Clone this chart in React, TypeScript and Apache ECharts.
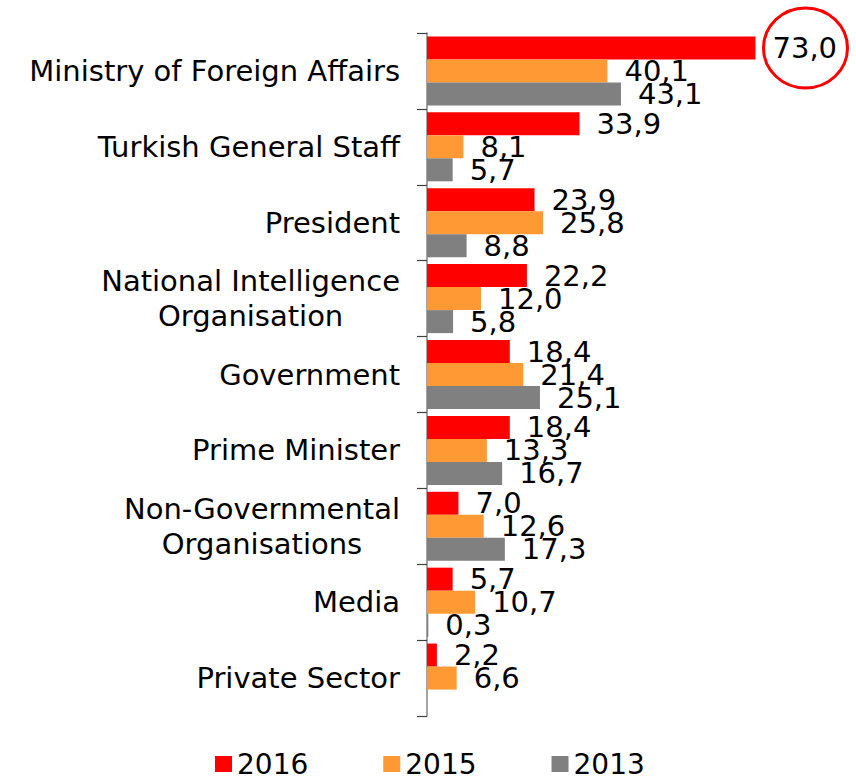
import React, { useEffect, useRef } from "react";
import * as echarts from "echarts";

const categories = [
  "Ministry of Foreign Affairs",
  "Turkish General Staff",
  "President",
  "National Intelligence\nOrganisation",
  "Government",
  "Prime Minister",
  "Non-Governmental\nOrganisations",
  "Media",
  "Private Sector",
];
const seriesNames = ["2016", "2015", "2013"];
const values2016 = [73.0, 33.9, 23.9, 22.2, 18.4, 18.4, 7.0, 5.7, 2.2];
const values2015 = [40.1, 8.1, 25.8, 12.0, 21.4, 13.3, 12.6, 10.7, 6.6];
const values2013: (number | null)[] = [43.1, 5.7, 8.8, 5.8, 25.1, 16.7, 17.3, 0.3, null];
const colors = ["#FF0000", "#FF9933", "#808080"];

const FONT = "DejaVu Sans";

export default function App() {
  const ref = useRef<HTMLDivElement>(null);
  useEffect(() => {
    if (!ref.current) return;
    const chart = echarts.init(ref.current, null, { renderer: "svg" });
    const fmt = (p: any) =>
      p.value == null ? "" : Number(p.value).toFixed(1).replace(".", ",");
    const mk = (name: string, data: (number | null)[], color: string) => ({
      name,
      type: "bar",
      data,
      barWidth: 23,
      barGap: "0%",
      itemStyle: { color },
      label: {
        show: true,
        position: "right",
        distance: 17,
        formatter: fmt,
        fontSize: 29,
        fontFamily: FONT,
        color: "#000",
      },
    });
    chart.setOption({
      animation: false,
      textStyle: { fontFamily: FONT },
      grid: { left: 427, top: 33, width: 360, height: 683 },
      xAxis: { type: "value", min: 0, max: 80, show: false },
      yAxis: {
        type: "category",
        inverse: true,
        data: categories,
        axisLine: { show: true, lineStyle: { color: "#868686", width: 1.5 } },
        axisTick: { show: true, length: 10, lineStyle: { color: "#404040", width: 1.2 } },
        splitLine: { show: false },
        axisLabel: {
          margin: 27,
          color: "#000",
          fontSize: 29,
          fontFamily: FONT,
          formatter: (v: string) =>
            v
              .split("\n")
              .map((l) => `{c|${l}}`)
              .join("\n"),
          rich: {
            c: {
              align: "center",
              fontSize: 29,
              lineHeight: 35,
              fontFamily: FONT,
              color: "#000",
            },
          },
        },
      },
      legend: {
        data: seriesNames,
        left: 210,
        top: 744,
        icon: "rect",
        itemWidth: 17,
        itemHeight: 16,
        itemGap: 75,
        textStyle: { fontSize: 28, fontFamily: FONT, color: "#000", lineHeight: 30 },
      },
      series: [
        mk(seriesNames[0], values2016, colors[0]),
        mk(seriesNames[1], values2015, colors[1]),
        mk(seriesNames[2], values2013, colors[2]),
      ],
    });
    const px = chart.convertToPixel({ xAxisIndex: 0 }, values2016[0]) as number;
    const py = chart.convertToPixel({ yAxisIndex: 0 }, 0) as number;
    chart.setOption({
      graphic: [
        {
          type: "ellipse",
          shape: { cx: px + 50, cy: py - 23, rx: 42, ry: 40 },
          style: { fill: "none", stroke: "#FF0000", lineWidth: 3 },
          silent: true,
        },
      ],
    });
    return () => chart.dispose();
  }, []);
  return (
    <div
      ref={ref}
      style={{ position: "absolute", left: 0, top: 0, width: 856, height: 778 }}
    />
  );
}
